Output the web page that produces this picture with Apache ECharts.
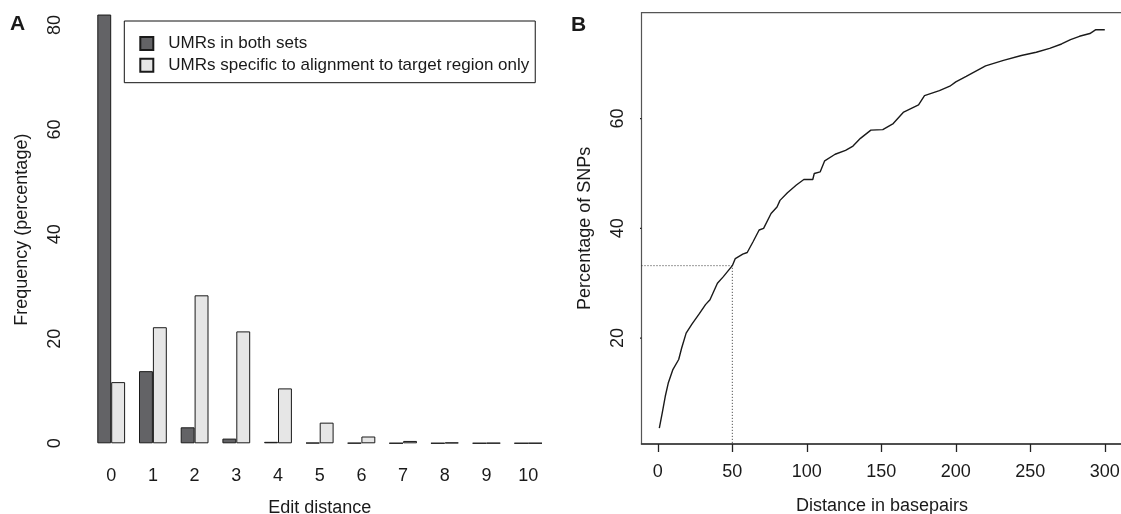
<!DOCTYPE html>
<html>
<head>
<meta charset="utf-8">
<script src="https://cdn.jsdelivr.net/npm/echarts@6/dist/echarts.min.js"></script>
<style>
  html, body { margin: 0; padding: 0; background: #fff; }
  #wrap { width: 1121px; height: 514px; position: relative; }
  #chartA { position: absolute; left: 0; top: 0; width: 560px; height: 514px; }
  #chartB { position: absolute; left: 560px; top: 0; width: 561px; height: 514px; }
</style>
</head>
<body>
<div id="wrap"><div id="chartA"></div><div id="chartB"></div></div>
<script>
// panel A: edit distance histogram
const editDistances = ['0', '1', '2', '3', '4', '5', '6', '7', '8', '9', '10'];
const bothSets = [82, 13.8, 3.06, 0.9, 0.28, 0.1, 0.06, 0.03, 0.02, 0.02, 0.02];
const targetOnly = [11.7, 22.2, 28.3, 21.4, 10.5, 3.95, 1.3, 0.45, 0.15, 0.06, 0.04];
const freqTicks = [0, 20, 40, 60, 80];

// panel B: cumulative SNP percentage
const distances = [1, 3, 5, 7, 10, 14, 16, 19, 23, 28, 32, 35, 40, 44, 50, 52, 57, 60, 64, 68, 71, 76, 80, 82,
  87, 93, 98, 104, 105, 109, 112, 119, 126, 131, 136, 143, 151, 158, 165, 175, 179, 189, 196, 200, 207,
  211, 220, 232, 244, 254, 263, 271, 277, 283, 290, 294, 300];
const snpPercent = [3.6, 6.4, 9.4, 11.8, 14.2, 16.1, 18.2, 20.9, 22.6, 24.5, 26.1, 27.0, 30.0, 31.2, 33.2,
  34.5, 35.3, 35.6, 37.6, 39.7, 40.0, 42.7, 43.9, 45.1, 46.5, 47.9, 48.9, 48.9, 50.0, 50.3, 52.3, 53.5,
  54.2, 55.0, 56.4, 57.9, 58.0, 59.1, 61.2, 62.5, 64.2, 65.1, 65.9, 66.7, 67.7, 68.3, 69.6, 70.6, 71.5,
  72.1, 72.8, 73.6, 74.4, 75.0, 75.5, 76.2, 76.2];
const distTicks = [0, 50, 100, 150, 200, 250, 300];
const pctTicks = [20, 40, 60];
const distRange = [-10.96, 311.96];
const pctRange = [0.7, 79.3];
const cutoffDistance = 50;
const cutoffPercent = 33.2;

const FONT = 'Liberation Sans';
const ink = '#1a1a1a';
const seriesNames = ['UMRs in both sets', 'UMRs specific to alignment to target region only'];

const gridA = { left: 90.35, top: 25, width: 458.7, height: 418.3 };
const gridB = { left: 81.5, top: 12.7, width: 481.1, height: 431.3 };
const offsetA = 11;
const tickLen = 8;

const axisLineStyle = { color: '#222', width: 1.3 };
const panelTitle = (text, left, top) => ({
  text, left, top, padding: 0,
  textStyle: { fontFamily: FONT, fontSize: 21, fontWeight: 'bold', color: ink }
});
const nameStyle = { fontFamily: FONT, fontSize: 18, color: ink };

// the y axis line and ticks are drawn as unclipped line series on the axis scales
const axisSeg = (points, extra) => Object.assign({
  type: 'line', data: points, symbol: 'none', silent: true, clip: false, z: 5,
  lineStyle: { color: axisLineStyle.color, width: axisLineStyle.width }
}, extra || {});

// panel A: value x axis laid over the category bands (band centres at 0..10)
const bandPx = gridA.width / editDistances.length;
const axisPosA = -0.5 - offsetA / bandPx;
const tickA = tickLen / bandPx;
const axisSeriesA = [axisSeg([[axisPosA, freqTicks[0]], [axisPosA, freqTicks[freqTicks.length - 1]]], { xAxisIndex: 1 })]
  .concat(freqTicks.map(v => axisSeg([[axisPosA - tickA, v], [axisPosA, v]], { xAxisIndex: 1 })));

// panel B: ticks just left of the plot box
const tickB = tickLen * (distRange[1] - distRange[0]) / gridB.width;
const axisSeriesB = pctTicks.map(v => axisSeg([[distRange[0] - tickB, v], [distRange[0], v]]));

const chartA = echarts.init(document.getElementById('chartA'));
chartA.setOption({
  animation: false,
  title: panelTitle('A', 10, 14),
  legend: {
    data: seriesNames,
    orient: 'vertical',
    left: 124.3,
    top: 21,
    padding: [14, 6, 9, 15],
    itemGap: 4.7,
    itemWidth: 13,
    itemHeight: 13,
    icon: 'rect',
    borderColor: '#111',
    borderWidth: 1,
    borderRadius: 0,
    textStyle: { fontFamily: FONT, fontSize: 17, color: ink, lineHeight: 17, padding: [0, 0, 0, 10] }
  },
  grid: Object.assign({ outerBoundsMode: 'none' }, gridA),
  xAxis: [
    {
      type: 'category',
      data: editDistances,
      name: 'Edit distance',
      nameLocation: 'middle',
      nameGap: 55.5,
      nameTextStyle: nameStyle,
      axisLine: { show: false },
      axisTick: { show: false },
      axisLabel: { margin: 24, fontSize: 18, fontFamily: FONT, color: ink },
      splitLine: { show: false }
    },
    {
      type: 'value',
      min: -0.5,
      max: editDistances.length - 0.5,
      show: false
    }
  ],
  yAxis: {
    type: 'value',
    min: 0,
    max: 80,
    offset: offsetA,
    name: 'Frequency (percentage)',
    nameLocation: 'middle',
    nameGap: 48,
    nameTextStyle: Object.assign({ padding: [0, 0, 0, 9] }, nameStyle),
    axisLine: { show: false },
    axisTick: { show: false },
    axisLabel: { rotate: 90, margin: 15, fontSize: 18, fontFamily: FONT, color: ink, customValues: freqTicks },
    splitLine: { show: false }
  },
  series: [
    {
      name: seriesNames[0],
      type: 'bar',
      data: bothSets,
      barWidth: 13.9,
      barGap: '0%',
      clip: false,
      itemStyle: { color: '#636366', borderColor: '#1a1a1a', borderWidth: 1 }
    },
    {
      name: seriesNames[1],
      type: 'bar',
      data: targetOnly,
      barWidth: 13.9,
      barGap: '0%',
      clip: false,
      itemStyle: { color: '#e6e6e6', borderColor: '#1a1a1a', borderWidth: 1 }
    }
  ].concat(axisSeriesA)
});

const chartB = echarts.init(document.getElementById('chartB'));
chartB.setOption({
  animation: false,
  title: panelTitle('B', 11, 15),
  grid: Object.assign({ outerBoundsMode: 'none', show: true, borderColor: '#555', borderWidth: 1.2,
    backgroundColor: 'transparent' }, gridB),
  xAxis: {
    type: 'value',
    min: distRange[0],
    max: distRange[1],
    name: 'Distance in basepairs',
    nameLocation: 'middle',
    nameGap: 53,
    nameTextStyle: nameStyle,
    axisLine: { show: true, onZero: false, lineStyle: { color: '#333', width: 1.5 } },
    axisTick: { show: true, length: tickLen, customValues: distTicks, lineStyle: axisLineStyle },
    axisLabel: { margin: 19, fontSize: 18, fontFamily: FONT, color: ink, customValues: distTicks },
    splitLine: { show: false }
  },
  yAxis: {
    type: 'value',
    min: pctRange[0],
    max: pctRange[1],
    name: 'Percentage of SNPs',
    nameLocation: 'middle',
    nameGap: 47,
    nameTextStyle: nameStyle,
    axisLine: { show: false },
    axisTick: { show: false },
    axisLabel: { rotate: 90, margin: 14, fontSize: 18, fontFamily: FONT, color: ink, customValues: pctTicks },
    splitLine: { show: false }
  },
  series: [
    {
      name: 'cutoff',
      type: 'line',
      data: [[distRange[0], cutoffPercent], [cutoffDistance, cutoffPercent], [cutoffDistance, pctRange[0]]],
      symbol: 'none',
      lineStyle: { color: '#333', width: 1, type: [1, 2] },
      silent: true
    },
    {
      name: 'SNPs',
      type: 'line',
      data: distances.map((d, i) => [d, snpPercent[i]]),
      symbol: 'none',
      lineStyle: { color: '#1a1a1a', width: 1.4 }
    }
  ].concat(axisSeriesB)
});
</script>
</body>
</html>
